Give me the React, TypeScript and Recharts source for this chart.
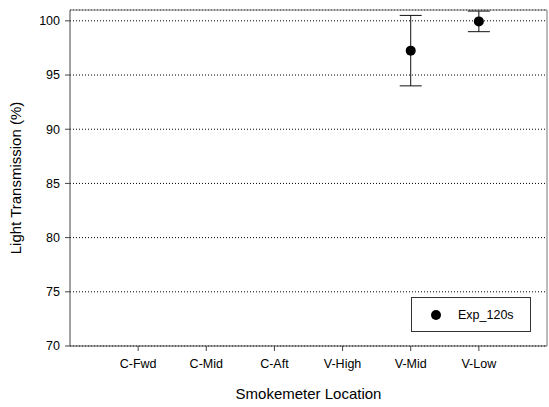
import React from 'react';
import {
  ComposedChart,
  Scatter,
  ErrorBar,
  XAxis,
  YAxis,
  CartesianGrid,
  ReferenceLine
} from 'recharts';

// Smokemeter locations along the x axis, in order (positions 1..6)
const locations = ['C-Fwd', 'C-Mid', 'C-Aft', 'V-High', 'V-Mid', 'V-Low'];

// Only the vent meters recorded a reading at 120 s
const measuredAt = [5, 6];
const transmission = [97.25, 99.95];
const transmissionErr = [3.25, 0.95];

const yTicks = [70, 75, 80, 85, 90, 95, 100];

const data = measuredAt.map((x, i) => ({
  x,
  y: transmission[i],
  err: transmissionErr[i]
}));

const FONT = 'Liberation Sans, Arial, sans-serif';

function Dot(props: any) {
  return <circle cx={props.cx} cy={props.cy} r={5} fill="#000" />;
}

// boxed legend sitting in the lower right of the plot area
function LegendBox() {
  return (
    <div
      style={{
        position: 'absolute',
        left: 411,
        top: 297,
        width: 120,
        height: 35,
        boxSizing: 'border-box',
        border: '1px solid #333',
        background: '#fff',
        display: 'flex',
        alignItems: 'center',
        fontFamily: FONT,
        fontSize: 12.5,
        color: '#000'
      }}
    >
      <svg width={46} height={33} style={{ display: 'block' }}>
        <circle cx={24} cy={17} r={5} fill="#000" />
      </svg>
      <span>Exp_120s</span>
    </div>
  );
}

export default function App() {
  return (
    <div style={{ position: 'absolute', left: 0, top: 0, background: '#fff' }}>
      <ComposedChart
        width={549}
        height={407}
        data={data}
        margin={{ top: 10, right: 2, left: 0, bottom: 0 }}
      >
        <CartesianGrid
          vertical={false}
          stroke="#000"
          strokeDasharray="1 2"
        />
        <XAxis
          type="number"
          dataKey="x"
          domain={[0, 7]}
          ticks={[1, 2, 3, 4, 5, 6]}
          tickFormatter={(v: number) => locations[v - 1]}
          height={61}
          stroke="#444"
          tickSize={5}
          tick={{ fill: '#000', fontSize: 12.5, fontFamily: FONT }}
          tickMargin={8}
          label={{
            value: 'Smokemeter Location',
            position: 'insideBottom',
            offset: 8,
            fill: '#000',
            fontSize: 15,
            fontFamily: FONT
          }}
        />
        <YAxis
          type="number"
          domain={[70, 101]}
          ticks={yTicks}
          width={70}
          stroke="#444"
          tickSize={5}
          tickMargin={5}
          tick={{ fill: '#000', fontSize: 12.5, fontFamily: FONT }}
          label={{
            value: 'Light Transmission (%)',
            angle: -90,
            position: 'insideLeft',
            offset: 16,
            style: { textAnchor: 'middle' },
            fill: '#000',
            fontSize: 15,
            fontFamily: FONT
          }}
        />
        <ReferenceLine y={101} stroke="#777" />
        <ReferenceLine x={7} stroke="#777" />
        <Scatter
          dataKey="y"
          name="Exp_120s"
          fill="#000"
          shape={Dot}
          isAnimationActive={false}
        >
          <ErrorBar
            dataKey="err"
            direction="y"
            width={11}
            stroke="#111"
            strokeWidth={1}
          />
        </Scatter>
      </ComposedChart>
      <LegendBox />
    </div>
  );
}
